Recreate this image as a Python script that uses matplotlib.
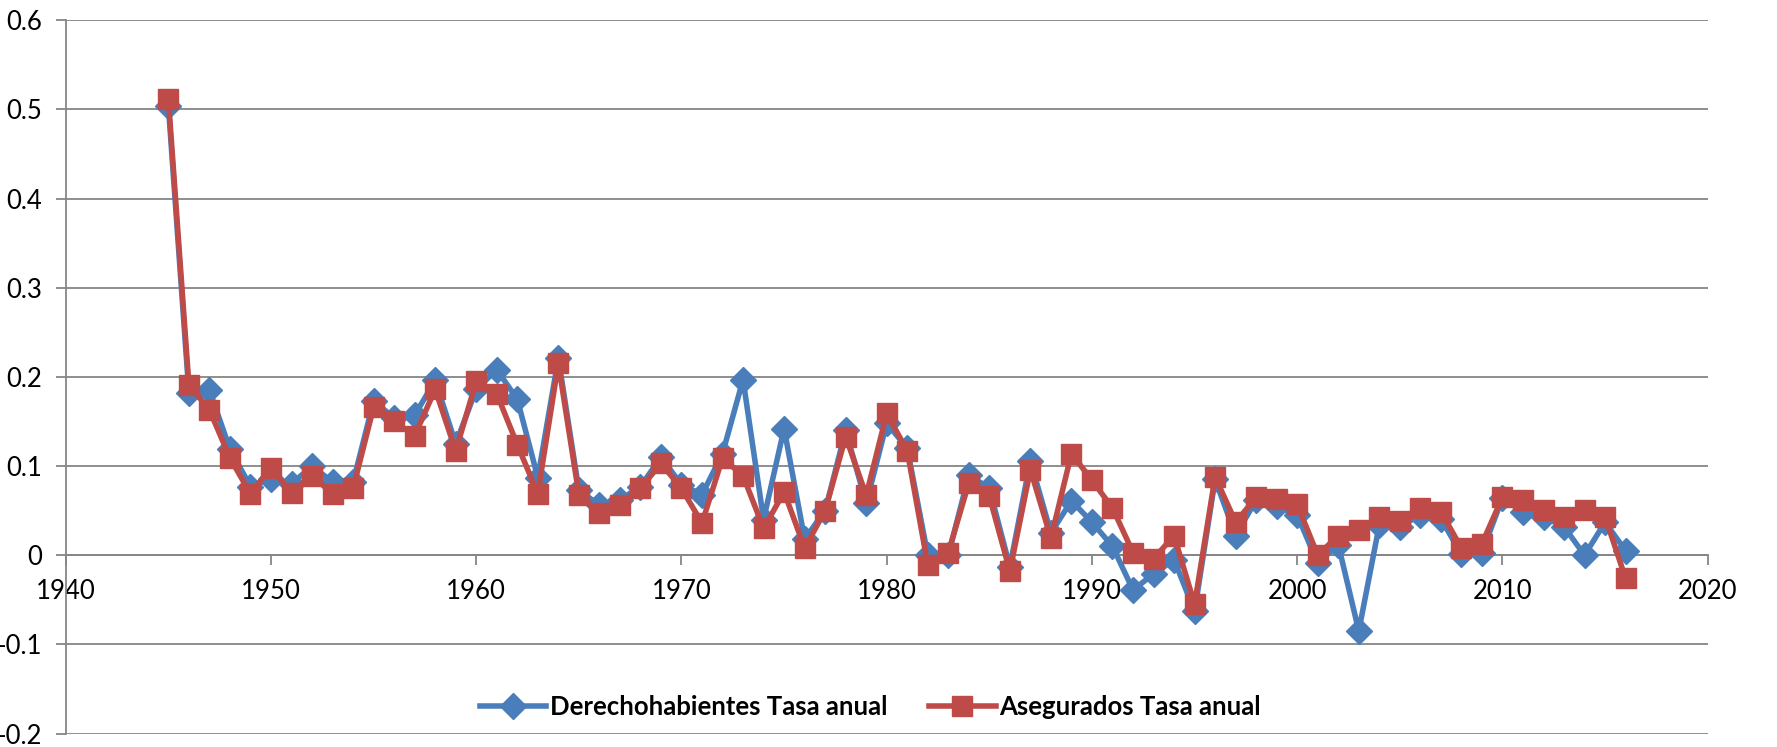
import matplotlib
matplotlib.use("Agg")
import matplotlib.pyplot as plt
import numpy as np

years = list(range(1945, 2017))

derechohabientes = [
    0.504, 0.182, 0.185, 0.119, 0.077, 0.086, 0.080, 0.100, 0.082, 0.082,  # 1945-1954
    0.173, 0.154, 0.157, 0.196, 0.125, 0.186, 0.208, 0.175, 0.087, 0.221,  # 1955-1964
    0.073, 0.056, 0.062, 0.077, 0.110, 0.079, 0.068, 0.114, 0.197, 0.040,  # 1965-1974
    0.142, 0.018, 0.050, 0.140, 0.058, 0.148, 0.120, 0.000, 0.000, 0.090,  # 1975-1984
    0.075, -0.013, 0.106, 0.025, 0.061, 0.037, 0.010, -0.039, -0.021, -0.005,  # 1985-1994
    -0.063, 0.085, 0.022, 0.062, 0.055, 0.045, -0.009, 0.012, -0.085, 0.034,  # 1995-2004
    0.032, 0.045, 0.041, 0.001, 0.003, 0.064, 0.049, 0.043, 0.032, 0.000,  # 2005-2014
    0.037, 0.005,  # 2015-2016
]

asegurados = [
    0.512, 0.191, 0.163, 0.109, 0.069, 0.098, 0.070, 0.089, 0.069, 0.075,  # 1945-1954
    0.166, 0.150, 0.134, 0.186, 0.117, 0.195, 0.181, 0.124, 0.069, 0.215,  # 1955-1964
    0.068, 0.047, 0.056, 0.075, 0.103, 0.075, 0.036, 0.109, 0.089, 0.030,  # 1965-1974
    0.071, 0.008, 0.050, 0.133, 0.067, 0.159, 0.117, -0.011, 0.003, 0.081,  # 1975-1984
    0.066, -0.018, 0.096, 0.019, 0.114, 0.084, 0.053, 0.003, -0.004, 0.022,  # 1985-1994
    -0.055, 0.088, 0.037, 0.065, 0.063, 0.057, 0.000, 0.022, 0.028, 0.043,  # 1995-2004
    0.038, 0.053, 0.049, 0.008, 0.013, 0.065, 0.062, 0.051, 0.043, 0.051,  # 2005-2014
    0.043, -0.026,  # 2015-2016
]

series_names = ["Derechohabientes Tasa anual", "Asegurados Tasa anual"]
y_ticks = [-0.2, -0.1, 0.0, 0.1, 0.2, 0.3, 0.4, 0.5, 0.6]
y_tick_labels = ["-0.2", "-0.1", "0", "0.1", "0.2", "0.3", "0.4", "0.5", "0.6"]
x_ticks = [1940, 1950, 1960, 1970, 1980, 1990, 2000, 2010, 2020]

plt.rcParams['font.family'] = ['Lato', 'DejaVu Sans']

fig = plt.figure(figsize=(17.77, 7.47), dpi=100)
ax = fig.add_axes([0.037, 0.018, 0.924, 0.955])

blue = "#4A7EBB"
red = "#BE4B48"
grid_c = "#868686"

ax.plot(years, derechohabientes, color=blue, lw=4.0, marker='D', markersize=13,
        markerfacecolor=blue, markeredgecolor=blue, label=series_names[0], zorder=3)
ax.plot(years, asegurados, color=red, lw=4.0, marker='s', markersize=14.5,
        markerfacecolor=red, markeredgecolor=red, label=series_names[1], zorder=4)

ax.set_xlim(1940, 2020)
ax.set_ylim(-0.2, 0.6)
ax.set_yticks(y_ticks)
ax.set_yticklabels(y_tick_labels)
ax.set_xticks(x_ticks)
ax.set_xticklabels([str(x) for x in x_ticks])

for yv in y_ticks:
    ax.axhline(yv, color=grid_c, lw=1.3, zorder=1)

ax.spines['top'].set_visible(False)
ax.spines['right'].set_visible(False)
ax.spines['left'].set_color(grid_c)
ax.spines['left'].set_linewidth(1.3)
ax.spines['bottom'].set_position(('data', 0))
ax.spines['bottom'].set_color(grid_c)
ax.spines['bottom'].set_linewidth(1.3)
ax.spines['bottom'].set_zorder(1)

ax.tick_params(axis='x', direction='out', length=7, width=1.3, color=grid_c,
               pad=10, labelsize=18.5, labelcolor='black')
ax.tick_params(axis='y', direction='out', length=7, width=1.3, color=grid_c,
               pad=10, labelsize=18.5, labelcolor='black')

leg = ax.legend(loc='lower center', bbox_to_anchor=(0.49, -0.012), ncol=2,
                frameon=False, prop={'weight': 'bold', 'size': 18.5},
                handlelength=2.6, columnspacing=1.6, handletextpad=0.15)

fig.savefig("out.png", dpi=100)
